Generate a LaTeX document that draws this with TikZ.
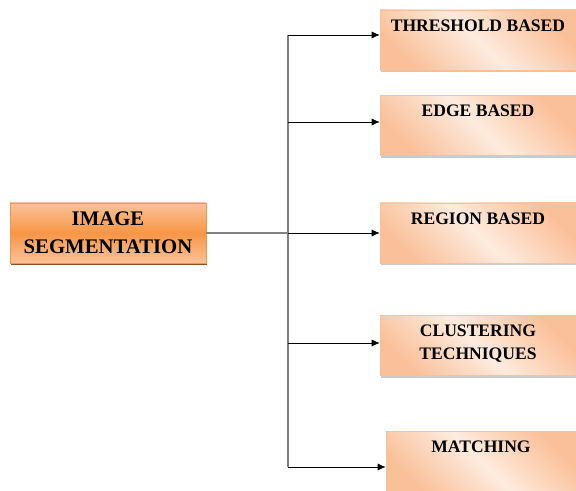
\documentclass[tikz,border=0pt]{standalone}
\usepackage{fontspec}
\setmainfont{Liberation Serif}
\usetikzlibrary{shadows,arrows.meta}
\definecolor{segorange}{HTML}{F79646}
\definecolor{seglight}{HTML}{FAC29A}
\definecolor{peach}{HTML}{FAC09A}
\definecolor{peachpale}{HTML}{FDEBDE}
\newcommand{\methodtext}[1]{\parbox[c][1.2cm][t]{3.8cm}{\centering\vspace*{5.5pt}#1}}
\begin{document}
\begin{tikzpicture}\tikzstyle{every node}=[font=\fontsize{10}{13}\selectfont\bfseries]
\tikzstyle{main}=[draw=segorange, top color=seglight, bottom color=seglight, middle color=segorange, minimum width=3.92cm, minimum height=1.2cm, align=center, font=\fontsize{11.8}{16}\selectfont\bfseries, drop shadow={shadow xshift=0.4pt, shadow yshift=-1.4pt, fill=segorange!55!black, opacity=1}]
\tikzstyle{method}=[draw=peach, top color=peach, bottom color=peach, middle color=peachpale, shading angle=-45, inner sep=0pt, minimum width=3.92cm, drop shadow={shadow xshift=0.8pt, shadow yshift=-1.2pt, fill=black!35, opacity=0.6}]
\tikzstyle{trunkline}=[draw=black!50, line width=0.9pt]
\tikzstyle{branch}=[-{Latex[length=4.5pt,width=4pt]}, thin]
\useasboundingbox (0,0) rectangle (11.52,-9.82);
% image segmentation
  \node[main] (seg) at (2.16,-4.66) {IMAGE\\SEGMENTATION};
% threshold
  \node[method] (thr) at (9.56,-0.8) {\methodtext{THRESHOLD BASED}};
% edge
  \node[method] (edge) at (9.56,-2.51) {\methodtext{EDGE BASED}};
% region
  \node[method] (region) at (9.56,-4.66) {\methodtext{REGION BASED}};
% clustering
  \node[method] (clust) at (9.56,-6.91) {\methodtext{CLUSTERING\\TECHNIQUES}};
% matching
  \node[method, minimum width=3.8cm] (match) at (9.62,-9.22) {\methodtext{MATCHING}};
%%%%%%%%%%%%%%%%
\coordinate (trunk) at (5.76,-4.66);
\draw[trunkline] (seg.east) -- (trunk);
\draw[trunkline] ([yshift=0.1cm]thr.west -| trunk) -- ([yshift=-0.12cm]match.west -| trunk);
\draw[branch] ([yshift=0.1cm]thr.west -| trunk) -- ([yshift=0.1cm]thr.west);
\draw[branch] ([yshift=0.07cm]edge.west -| trunk) -- ([yshift=0.07cm]edge.west);
\draw[branch] (region.west -| trunk) -- (region.west);
\draw[branch] ([yshift=0.05cm]clust.west -| trunk) -- ([yshift=0.05cm]clust.west);
\draw[branch] ([yshift=-0.12cm]match.west -| trunk) -- ([yshift=-0.12cm]match.west);
\end{tikzpicture}
\end{document}
